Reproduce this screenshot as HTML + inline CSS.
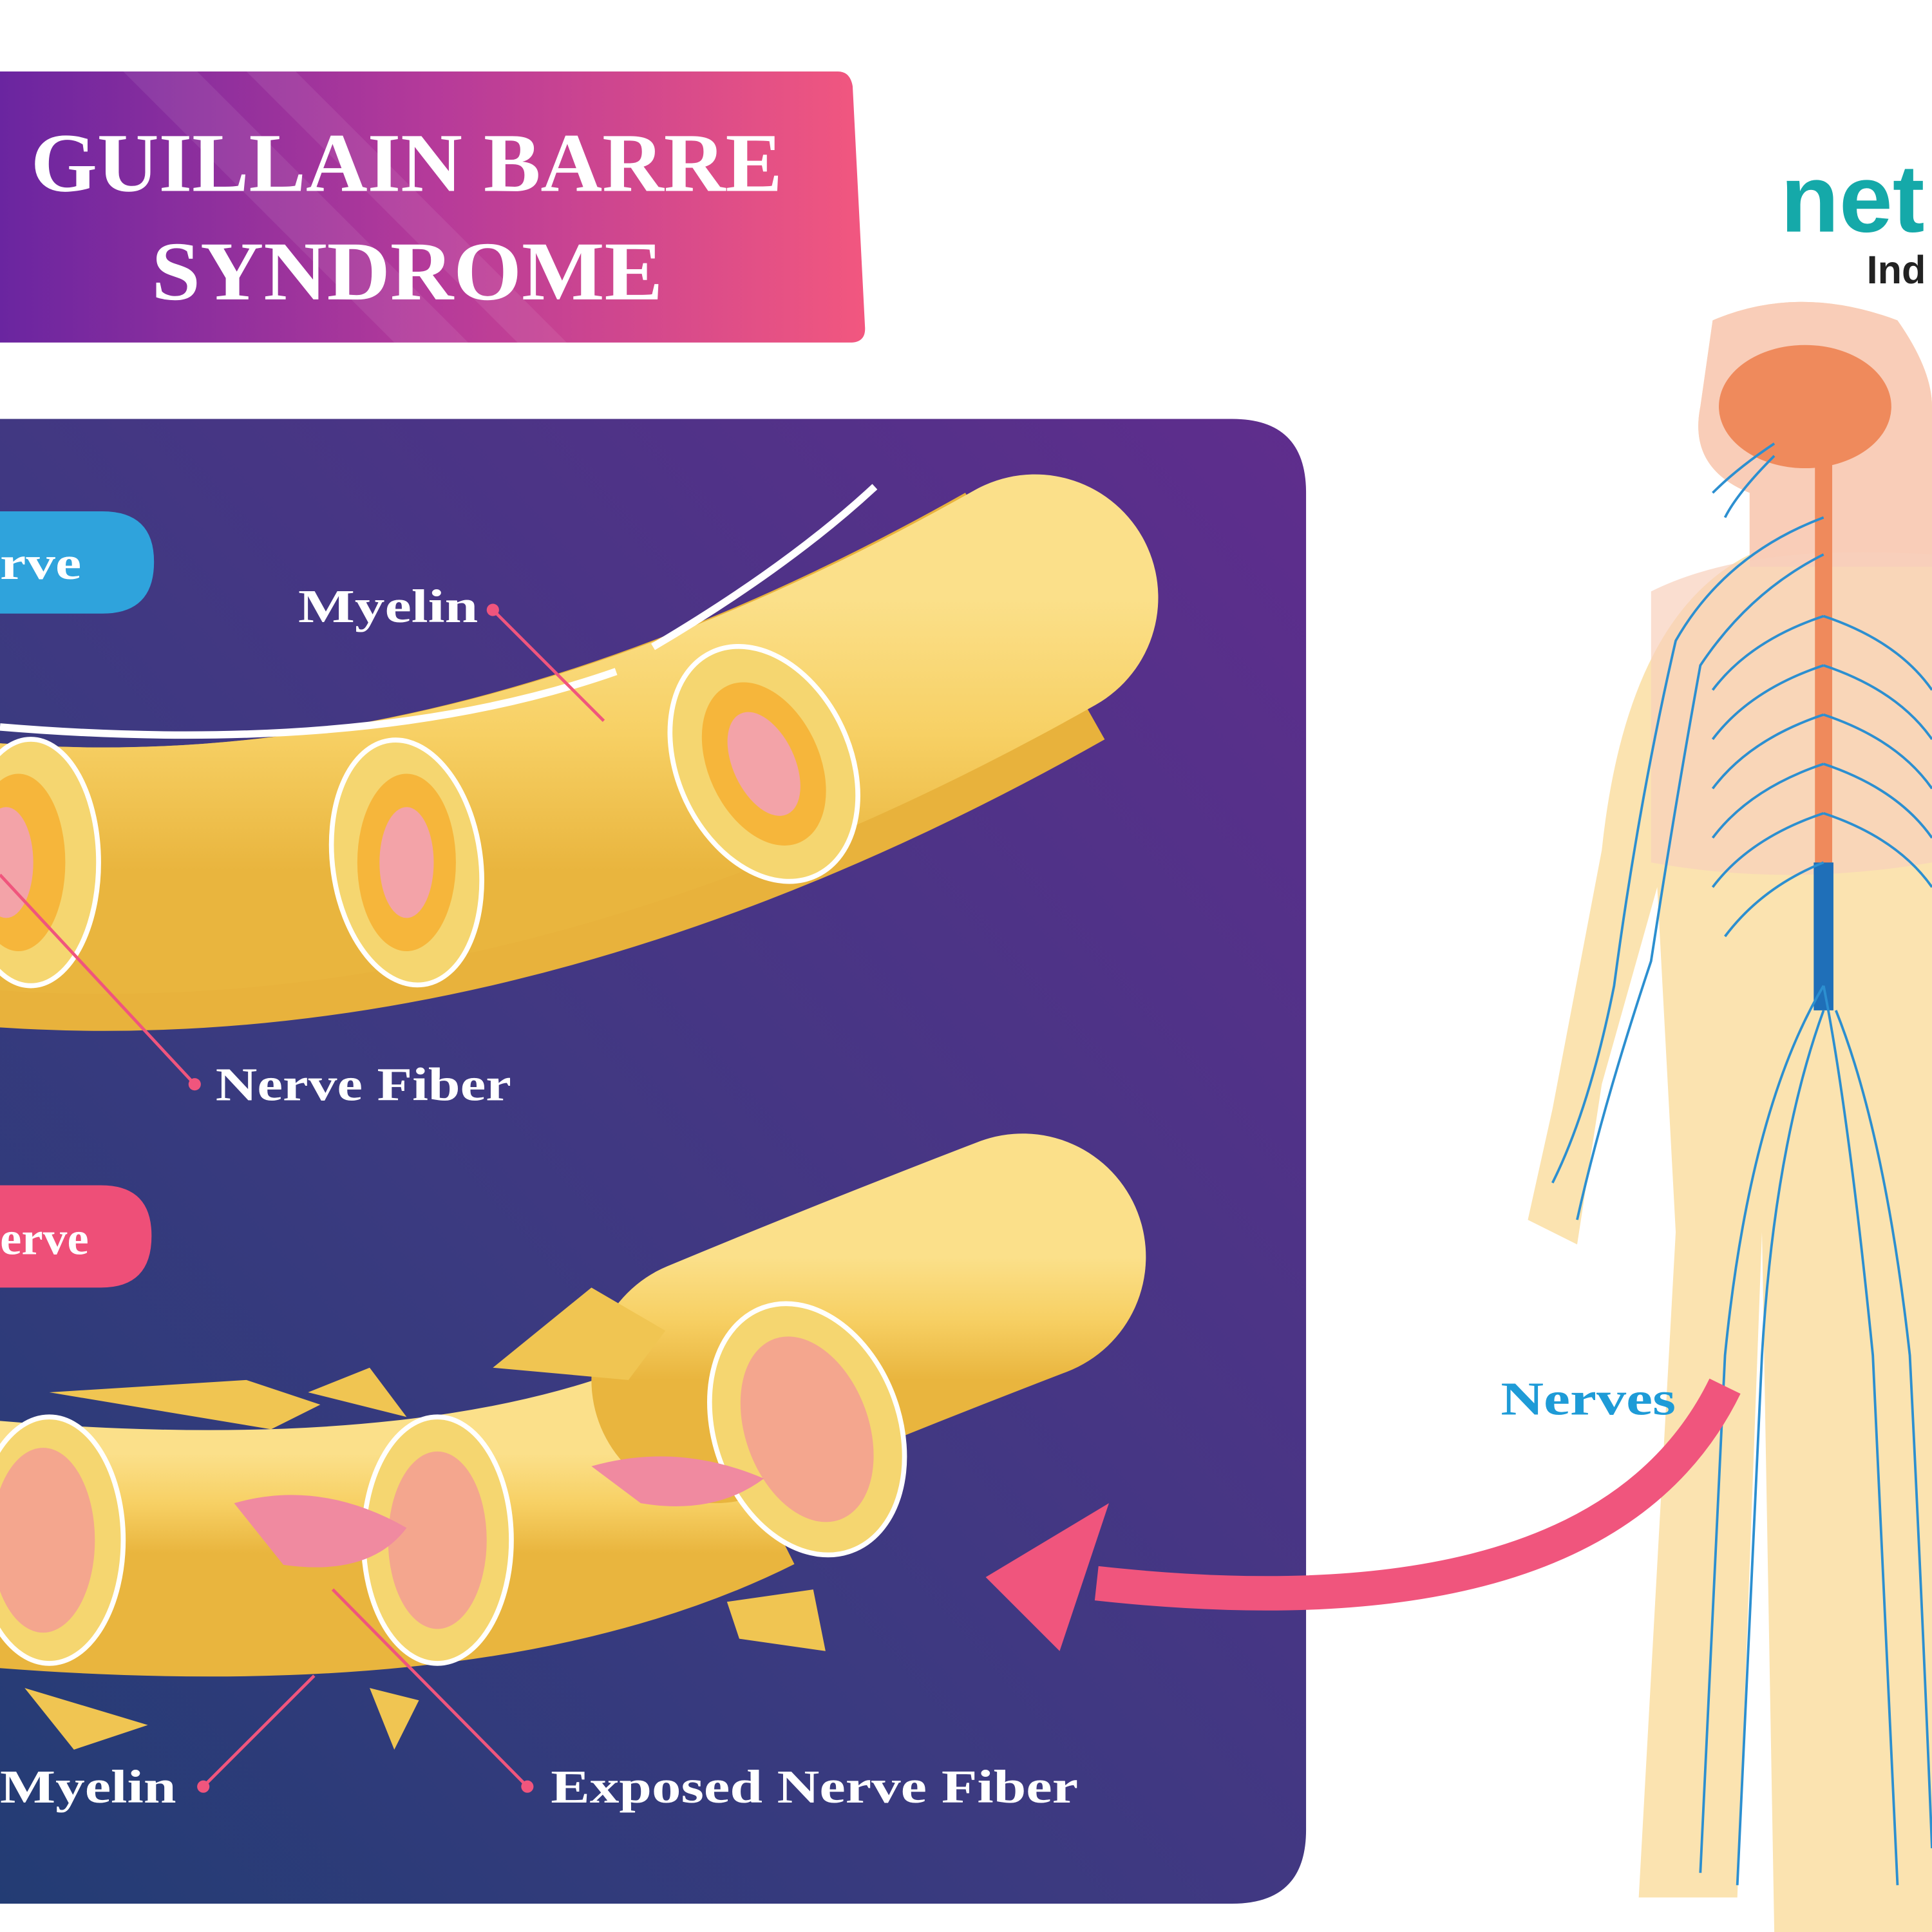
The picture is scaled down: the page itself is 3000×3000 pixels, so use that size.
<!DOCTYPE html>
<html><head><meta charset="utf-8"><style>
html,body{margin:0;padding:0;background:#fff;width:3000px;height:3000px;overflow:hidden}
svg{display:block}
.t{font-family:"Liberation Serif",serif;font-weight:bold}
</style></head><body>
<svg width="3000" height="3000" viewBox="0 0 1568 1568" xmlns="http://www.w3.org/2000/svg">
<defs>
<linearGradient id="ban" x1="0" y1="0" x2="1" y2="0"><stop offset="0" stop-color="#6a25a0"/><stop offset="0.5" stop-color="#b53a9a"/><stop offset="1" stop-color="#f2577f"/></linearGradient>
<linearGradient id="pan" x1="1" y1="0" x2="0" y2="1"><stop offset="0" stop-color="#5f2d8d"/><stop offset="0.6" stop-color="#3b3a80"/><stop offset="1" stop-color="#233c74"/></linearGradient>
<linearGradient id="tube" x1="0" y1="0" x2="0" y2="1"><stop offset="0" stop-color="#fbe08a"/><stop offset="0.5" stop-color="#f7d064"/><stop offset="1" stop-color="#e9b53e"/></linearGradient>
</defs>
<rect width="1568" height="1568" fill="#fff"/>
<!-- banner -->
<path d="M0 58 H680 Q690 58 692 70 L702 265 Q703 278 690 278 H0 Z" fill="url(#ban)"/>
<path d="M100 58 L160 58 L380 278 L320 278Z M200 58 L240 58 L460 278 L420 278Z" fill="#fff" opacity="0.08"/>
<text class="t" x="25" y="155" font-size="68" fill="#fff" textLength="610" lengthAdjust="spacingAndGlyphs">GUILLAIN BARRE</text>
<text class="t" x="123" y="243" font-size="68" fill="#fff" textLength="415" lengthAdjust="spacingAndGlyphs">SYNDROME</text>
<!-- panel -->
<path d="M0 340 H1000 Q1060 340 1060 400 V1485 Q1060 1545 1000 1545 H0Z" fill="url(#pan)"/>
<!-- pills -->
<path d="M0 415 H83 Q125 415 125 456 Q125 498 83 498 H0Z" fill="#2fa3dc"/>
<text class="t" x="0" y="470" font-size="38" fill="#fff" textLength="66" lengthAdjust="spacingAndGlyphs">rve</text>
<path d="M0 962 H82 Q123 962 123 1003 Q123 1045 82 1045 H0Z" fill="#ee4f78"/>
<text class="t" x="0" y="1018" font-size="38" fill="#fff" textLength="72" lengthAdjust="spacingAndGlyphs">erve</text>
<!-- top tube -->
<path d="M-40 715 Q380 760 840 500" stroke="#e8b23c" stroke-width="230" fill="none"/>
<path d="M-40 700 Q380 745 840 485" stroke="url(#tube)" stroke-width="200" fill="none" stroke-linecap="round"/>
<path d="M0 590 Q300 615 500 545 M530 525 Q640 460 710 395" stroke="#fff" stroke-width="6" fill="none"/>
<g>
<ellipse cx="620" cy="620" rx="70" ry="100" fill="#f5d670" stroke="#fff" stroke-width="4" transform="rotate(-25 620 620)"/>
<ellipse cx="620" cy="620" rx="45" ry="70" fill="#f6b63b" transform="rotate(-25 620 620)"/>
<ellipse cx="620" cy="620" rx="25" ry="45" fill="#f3a3a8" transform="rotate(-25 620 620)"/>
<ellipse cx="330" cy="700" rx="60" ry="100" fill="#f5d670" stroke="#fff" stroke-width="4" transform="rotate(-8 330 700)"/>
<ellipse cx="330" cy="700" rx="40" ry="72" fill="#f6b63b"/>
<ellipse cx="330" cy="700" rx="22" ry="45" fill="#f3a3a8"/>
<ellipse cx="25" cy="700" rx="55" ry="100" fill="#f5d670" stroke="#fff" stroke-width="4"/>
<ellipse cx="15" cy="700" rx="38" ry="72" fill="#f6b63b"/>
<ellipse cx="5" cy="700" rx="22" ry="45" fill="#f3a3a8"/>
</g>
<path d="M400 495 L490 585 M0 710 L158 880" stroke="#f0557d" stroke-width="2.5"/>
<circle cx="400" cy="495" r="5" fill="#f0557d"/><circle cx="158" cy="880" r="5" fill="#f0557d"/>
<text class="t" x="242" y="505" font-size="38" fill="#fff" textLength="146" lengthAdjust="spacingAndGlyphs">Myelin</text>
<text class="t" x="175" y="893" font-size="38" fill="#fff" textLength="240" lengthAdjust="spacingAndGlyphs">Nerve Fiber</text>
<!-- bottom damaged tube -->
<path d="M-40 1250 Q380 1290 600 1180" stroke="url(#tube)" stroke-width="200" fill="none"/>
<path d="M580 1120 Q700 1070 830 1020" stroke="url(#tube)" stroke-width="200" fill="none" stroke-linecap="round"/>
<path d="M40 1130 L200 1120 L260 1140 L220 1160Z M250 1130 L300 1110 L330 1150Z M400 1110 L480 1045 L540 1080 L510 1120Z M590 1300 L660 1290 L670 1340 L600 1330Z M300 1370 L340 1380 L320 1420Z M20 1370 L120 1400 L60 1420Z" fill="#f0c552"/>
<ellipse cx="655" cy="1160" rx="75" ry="105" fill="#f5d670" stroke="#fff" stroke-width="4" transform="rotate(-20 655 1160)"/>
<ellipse cx="655" cy="1160" rx="50" ry="78" fill="#f4a68e" transform="rotate(-20 655 1160)"/>
<ellipse cx="355" cy="1250" rx="60" ry="100" fill="#f5d670" stroke="#fff" stroke-width="4"/>
<ellipse cx="355" cy="1250" rx="40" ry="72" fill="#f4a68e"/>
<ellipse cx="40" cy="1250" rx="60" ry="100" fill="#f5d670" stroke="#fff" stroke-width="4"/>
<ellipse cx="35" cy="1250" rx="42" ry="75" fill="#f4a68e"/>
<path d="M190 1220 Q260 1200 330 1240 Q300 1280 230 1270Z M480 1190 Q550 1170 620 1200 Q580 1230 520 1220Z" fill="#f08aa0"/>
<path d="M255 1360 L165 1450 M270 1290 L428 1450" stroke="#f0557d" stroke-width="2.5"/>
<circle cx="165" cy="1450" r="5" fill="#f0557d"/><circle cx="428" cy="1450" r="5" fill="#f0557d"/>
<text class="t" x="0" y="1463" font-size="38" fill="#fff" textLength="143" lengthAdjust="spacingAndGlyphs">Myelin</text>
<text class="t" x="447" y="1463" font-size="38" fill="#fff" textLength="428" lengthAdjust="spacingAndGlyphs">Exposed Nerve Fiber</text>
<!-- logo -->
<text x="1445" y="188" font-family="Liberation Sans,sans-serif" font-weight="bold" font-size="78" fill="#15a9a9">net</text>
<text x="1515" y="230" font-family="Liberation Sans,sans-serif" font-weight="bold" font-size="32" fill="#222">Ind</text>
<!-- human -->
<g fill="#fbe3b0">
<path d="M1390 260 Q1460 230 1540 260 Q1568 300 1568 330 V1568 H1440 L1430 1000 L1410 1540 L1330 1540 L1360 1000 L1345 720 L1300 880 L1280 1010 L1240 990 L1260 900 L1300 690 Q1320 500 1420 450 L1420 400 Q1370 380 1380 330Z"/>
</g>
<path d="M1390 260 Q1460 230 1540 260 Q1568 300 1568 330 V460 L1420 460 L1420 400 Q1370 380 1380 330Z" fill="#f9cdb8"/>
<path d="M1340 480 Q1420 440 1568 450 V700 Q1450 720 1340 700Z" fill="#f8d0bc" opacity="0.7"/>
<ellipse cx="1465" cy="330" rx="70" ry="50" fill="#ef8a5c"/>
<rect x="1473" y="360" width="14" height="360" fill="#ef8a5c"/>
<rect x="1472" y="700" width="16" height="120" fill="#1f6fb8"/>
<g stroke="#2c8fd0" stroke-width="2" fill="none">
<path d="M1480 420 Q1400 450 1360 520 Q1330 650 1310 800 Q1290 900 1260 960"/>
<path d="M1480 450 Q1420 480 1380 540 Q1360 650 1340 780 Q1300 900 1280 990"/>
<path d="M1480 800 Q1420 900 1400 1100 Q1390 1300 1380 1520"/>
<path d="M1480 820 Q1440 930 1430 1100 Q1420 1300 1410 1530"/>
<path d="M1480 800 Q1500 900 1520 1100 Q1530 1300 1540 1530"/>
<path d="M1490 820 Q1530 920 1550 1100 Q1560 1300 1568 1500"/>
<path d="M1480 500 Q1420 520 1390 560 M1480 540 Q1420 560 1390 600 M1480 580 Q1420 600 1390 640 M1480 620 Q1420 640 1390 680 M1480 660 Q1420 680 1390 720 M1480 700 Q1430 720 1400 760"/>
<path d="M1480 500 Q1540 520 1568 560 M1480 540 Q1540 560 1568 600 M1480 580 Q1540 600 1568 640 M1480 620 Q1540 640 1568 680 M1480 660 Q1540 680 1568 720"/>
<path d="M1440 360 Q1410 380 1390 400 M1440 370 Q1410 400 1400 420"/>
</g>
<!-- arrow -->
<path d="M1400 1125 Q1300 1330 890 1285" stroke="#f0557d" stroke-width="28" fill="none"/>
<path d="M800 1280 L900 1220 L860 1340Z" fill="#f0557d"/>
<text class="t" x="1218" y="1148" font-size="38" fill="#1e9bd7" textLength="142" lengthAdjust="spacingAndGlyphs">Nerves</text>
</svg>
</body></html>
